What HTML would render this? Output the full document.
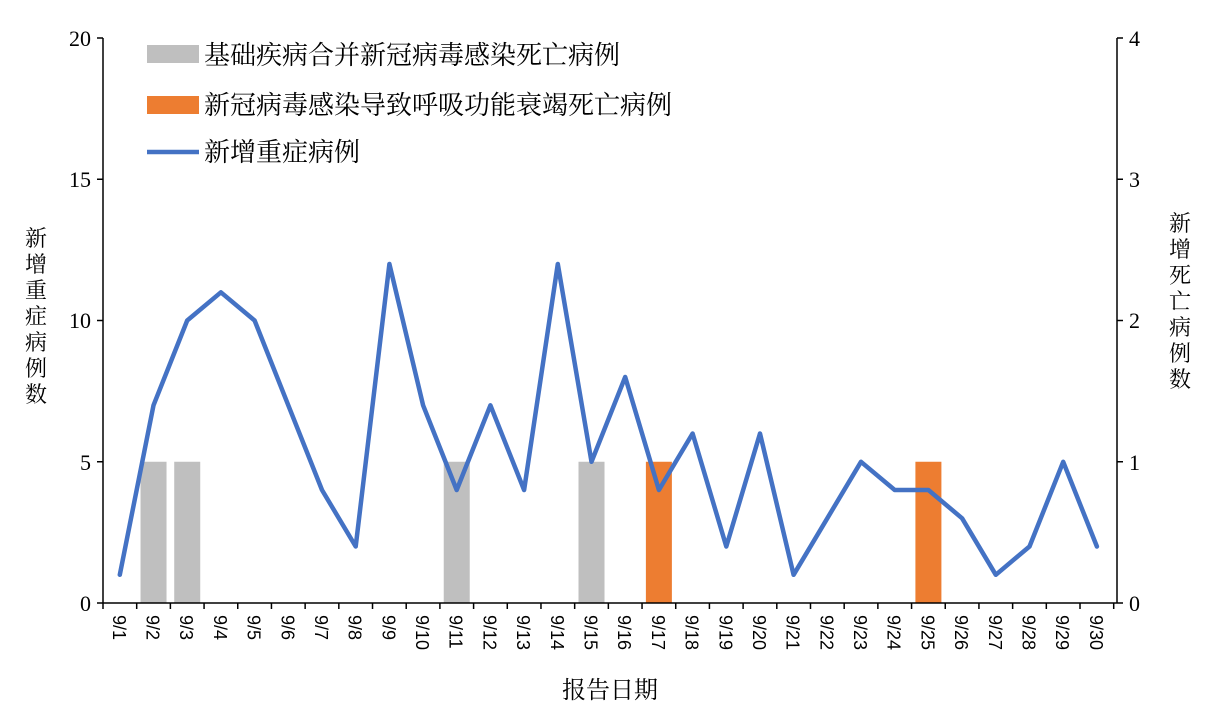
<!DOCTYPE html>
<html><head><meta charset="utf-8"><style>
html,body{margin:0;padding:0;background:#fff;}
svg{display:block;}
.s{font-family:"Liberation Serif","Noto Serif CJK SC",serif;fill:#000;}
.c{font-family:"Liberation Serif","Noto Serif CJK SC",serif;fill:#000;font-size:22px;}
.lg{font-family:"Liberation Serif","Noto Serif CJK SC",serif;fill:#000;font-size:26px;}
.x{font-family:"Liberation Sans","DejaVu Sans",sans-serif;font-size:18px;fill:#000;}
</style></head><body>
<svg width="1209" height="712" xmlns="http://www.w3.org/2000/svg">
<g id="bars"></g>
<g stroke="#000" stroke-width="1.5" fill="none">
<line x1="103" y1="38" x2="103" y2="603"/>
<line x1="1117" y1="38" x2="1117" y2="603"/>
<line x1="103" y1="603" x2="1117" y2="603"/>
<line x1="97" y1="38" x2="103" y2="38"/><line x1="97" y1="179.25" x2="103" y2="179.25"/><line x1="97" y1="320.5" x2="103" y2="320.5"/><line x1="97" y1="461.75" x2="103" y2="461.75"/><line x1="97" y1="603" x2="103" y2="603"/>
<line x1="1117" y1="38" x2="1123" y2="38"/><line x1="1117" y1="179.25" x2="1123" y2="179.25"/><line x1="1117" y1="320.5" x2="1123" y2="320.5"/><line x1="1117" y1="461.75" x2="1123" y2="461.75"/><line x1="1117" y1="603" x2="1123" y2="603"/>
<g id="xt"></g>
</g>
<g class="s" font-size="22" text-anchor="end">
<text x="91" y="46">20</text><text x="91" y="187">15</text><text x="91" y="328">10</text><text x="91" y="470">5</text><text x="91" y="611">0</text>
</g>
<g class="s" font-size="22" text-anchor="start">
<text x="1129" y="46">4</text><text x="1129" y="187">3</text><text x="1129" y="328">2</text><text x="1129" y="470">1</text><text x="1129" y="611">0</text>
</g>
<g id="xl"></g>
<polyline id="ln" fill="none" stroke="#4472C4" stroke-width="4.5" stroke-linejoin="round" stroke-linecap="round"/>
<rect x="147" y="45" width="52" height="18" fill="#BFBFBF"/>
<text class="lg" x="204" y="64">基础疾病合并新冠病毒感染死亡病例</text>
<rect x="147" y="96" width="52" height="18" fill="#ED7D31"/>
<text class="lg" x="204" y="114">新冠病毒感染导致呼吸功能衰竭死亡病例</text>
<line x1="147" y1="152" x2="199" y2="152" stroke="#4472C4" stroke-width="4.5"/>
<text class="lg" x="204" y="161">新增重症病例</text>
<g class="c" text-anchor="middle">
<text x="36" y="246">新</text><text x="36" y="272">增</text><text x="36" y="298">重</text><text x="36" y="324">症</text><text x="36" y="350">病</text><text x="36" y="376">例</text><text x="36" y="402">数</text>
<text x="1180" y="231">新</text><text x="1180" y="257">增</text><text x="1180" y="283">死</text><text x="1180" y="309">亡</text><text x="1180" y="335">病</text><text x="1180" y="361">例</text><text x="1180" y="387">数</text>
<text x="610" y="698" font-size="24">报告日期</text>
</g>
</svg>
<script>
var ns="http://www.w3.org/2000/svg";
var v=[1,7,10,11,10,7,4,2,12,7,4,7,4,12,5,8,4,6,2,6,1,3,5,4,4,3,1,2,5,2];
var bars={1:"#BFBFBF",2:"#BFBFBF",10:"#BFBFBF",14:"#BFBFBF",16:"#ED7D31",24:"#ED7D31"};
var w=33.69,pts=[];
var B=document.getElementById("bars"),T=document.getElementById("xt"),L=document.getElementById("xl");
for(var i=0;i<30;i++){
 var cx=103+w*(i+0.5);
 pts.push(cx.toFixed(1)+","+(603-v[i]*28.25).toFixed(1));
 if(bars[i]){var r=document.createElementNS(ns,"rect");r.setAttribute("x",cx-13);r.setAttribute("y",461.75);r.setAttribute("width",26);r.setAttribute("height",141.25);r.setAttribute("fill",bars[i]);B.appendChild(r);}
 var bx=103+w*i;
 var l=document.createElementNS(ns,"line");l.setAttribute("x1",bx);l.setAttribute("x2",bx);l.setAttribute("y1",603);l.setAttribute("y2",609);T.appendChild(l);
 var t=document.createElementNS(ns,"text");t.setAttribute("class","x");t.setAttribute("transform","translate("+(cx-7)+",615) rotate(90)");t.textContent="9/"+(i+1);L.appendChild(t);
}
var l2=document.createElementNS(ns,"line");l2.setAttribute("x1",103+w*30);l2.setAttribute("x2",103+w*30);l2.setAttribute("y1",603);l2.setAttribute("y2",609);T.appendChild(l2);
document.getElementById("ln").setAttribute("points",pts.join(" "));
</script>
</body></html>
